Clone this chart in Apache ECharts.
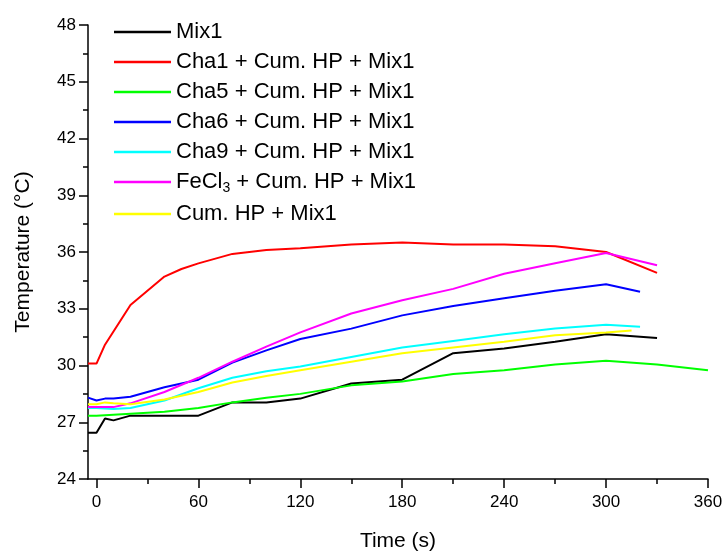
<!DOCTYPE html>
<html>
<head>
<meta charset="utf-8">
<script src="https://cdn.jsdelivr.net/npm/echarts@6/dist/echarts.min.js"></script>
<style>html,body{margin:0;padding:0;background:#fff;}#c{width:726px;height:554px;}</style>
</head>
<body>
<div id="c"></div>
<script>
const seriesNames = ['Mix1', 'Cha1 + Cum. HP + Mix1', 'Cha5 + Cum. HP + Mix1', 'Cha6 + Cum. HP + Mix1', 'Cha9 + Cum. HP + Mix1', 'FeCl3 + Cum. HP + Mix1', 'Cum. HP + Mix1'];
const seriesColors = ['#000000', '#ff0000', '#00ff00', '#0000ff', '#00ffff', '#ff00ff', '#ffff00'];

const tMix1 = [-5, 0, 5, 10, 20, 60, 80, 100, 120, 150, 180, 210, 240, 270, 300, 330];
const vMix1 = [26.45, 26.45, 27.2, 27.1, 27.35, 27.35, 28.05, 28.05, 28.25, 29.05, 29.25, 30.65, 30.9, 31.25, 31.65, 31.45];

const tCha1 = [-5, 0, 5, 20, 40, 50, 60, 80, 100, 120, 150, 180, 210, 240, 270, 300, 330];
const vCha1 = [30.1, 30.1, 31.1, 33.2, 34.7, 35.1, 35.4, 35.9, 36.1, 36.2, 36.4, 36.5, 36.4, 36.4, 36.3, 36.0, 34.9];

const tCha5 = [-5, 0, 20, 40, 60, 80, 100, 120, 150, 180, 210, 240, 270, 300, 330, 360];
const vCha5 = [27.35, 27.35, 27.45, 27.55, 27.75, 28.05, 28.3, 28.5, 28.95, 29.15, 29.55, 29.75, 30.05, 30.25, 30.05, 29.75];

const tCha6 = [-5, 0, 5, 10, 20, 40, 60, 80, 100, 120, 150, 180, 210, 240, 270, 300, 320];
const vCha6 = [28.3, 28.15, 28.25, 28.25, 28.35, 28.85, 29.25, 30.15, 30.8, 31.4, 31.95, 32.65, 33.15, 33.55, 33.95, 34.3, 33.9];

const tCha9 = [-5, 0, 10, 20, 40, 60, 80, 100, 120, 150, 180, 210, 240, 270, 300, 320];
const vCha9 = [27.75, 27.75, 27.7, 27.75, 28.15, 28.8, 29.35, 29.7, 29.95, 30.45, 30.95, 31.3, 31.65, 31.95, 32.15, 32.05];

const tFeCl3 = [-5, 0, 10, 20, 40, 60, 80, 100, 120, 150, 180, 210, 240, 270, 300, 330];
const vFeCl3 = [27.8, 27.8, 27.8, 28.0, 28.6, 29.35, 30.2, 31.0, 31.75, 32.75, 33.45, 34.05, 34.85, 35.4, 35.95, 35.3];

const tCumHP = [-5, 0, 5, 10, 20, 40, 60, 80, 100, 120, 150, 180, 210, 240, 270, 300, 315];
const vCumHP = [27.95, 27.95, 28.05, 28.0, 27.95, 28.2, 28.6, 29.1, 29.45, 29.75, 30.2, 30.65, 30.95, 31.25, 31.6, 31.75, 31.85];

const xMajorTicks = [0, 60, 120, 180, 240, 300, 360];
const xMinorTicks = [30, 90, 150, 210, 270, 330];

const allT = [tMix1, tCha1, tCha5, tCha6, tCha9, tFeCl3, tCumHP];
const allV = [vMix1, vCha1, vCha5, vCha6, vCha9, vFeCl3, vCumHP];

const FONT = 'Arial, "Liberation Sans", sans-serif';
const chart = echarts.init(document.getElementById('c'), null, {renderer: 'canvas'});

const series = seriesNames.map((name, i) => ({
  name: name,
  type: 'line',
  data: allT[i].map((t, j) => [t, allV[i][j]]),
  symbol: 'none',
  showSymbol: false,
  lineStyle: {color: seriesColors[i], width: 2},
  itemStyle: {color: seriesColors[i]},
  clip: true,
  animation: false
}));

const axisLineStyle = {color: '#000', width: 1.5};

chart.setOption({
  animation: false,
  backgroundColor: '#fff',
  grid: {left: 88, right: 18, top: 25, bottom: 75, containLabel: false, outerBoundsMode: 'none'},
  legend: {
    orient: 'vertical',
    left: 109,
    top: 16,
    itemWidth: 57,
    itemHeight: 12,
    itemGap: 8,
    icon: 'rect',
    data: seriesNames.map((n, i) => ({name: n, icon: 'path://M0,0 L57,0 L57,2.4 L0,2.4 Z', itemStyle: {color: seriesColors[i]}})),
    textStyle: {
      fontSize: 22, fontFamily: FONT, color: '#000', padding: [0, 0, 0, 0],
      rich: {
        sub: {fontSize: 14, fontFamily: FONT, color: '#000', padding: [12, 0, 0, 0]}
      }
    },
    formatter: function (name) {
      if (name.indexOf('FeCl3') === 0) return 'FeCl{sub|3} + Cum. HP + Mix1';
      return name;
    }
  },
  xAxis: [{
    type: 'value',
    min: -5, max: 360,
    name: 'Time (s)',
    nameLocation: 'middle',
    nameGap: 52,
    nameTextStyle: {fontSize: 21, fontFamily: FONT, color: '#000'},
    axisLine: {show: true, onZero: false, lineStyle: axisLineStyle},
    axisTick: {show: true, inside: false, length: 9, customValues: xMajorTicks, lineStyle: {color: '#000', width: 1.5}},
    axisLabel: {show: true, customValues: xMajorTicks, fontSize: 17, fontFamily: FONT, color: '#000', margin: 15},
    splitLine: {show: false}
  }, {
    type: 'value',
    min: -5, max: 360,
    position: 'bottom',
    axisLine: {show: false, onZero: false},
    axisTick: {show: true, inside: false, length: 5, customValues: xMinorTicks, lineStyle: {color: '#000', width: 1.5}},
    axisLabel: {show: false},
    splitLine: {show: false}
  }],
  yAxis: {
    type: 'value',
    min: 24, max: 48, interval: 3,
    name: 'Temperature (°C)',
    nameLocation: 'middle',
    nameGap: 54,
    nameTextStyle: {fontSize: 21, fontFamily: FONT, color: '#000'},
    axisLine: {show: true, onZero: false, lineStyle: axisLineStyle},
    axisTick: {show: true, inside: false, length: 9, lineStyle: {color: '#000', width: 1.5}},
    minorTick: {show: true, splitNumber: 2, length: 5, lineStyle: {color: '#000', width: 1.5}},
    axisLabel: {fontSize: 17, fontFamily: FONT, color: '#000', margin: 12, padding: [0, 0, 7, 0]},
    splitLine: {show: false}
  },
  series: series
});
</script>
</body>
</html>
